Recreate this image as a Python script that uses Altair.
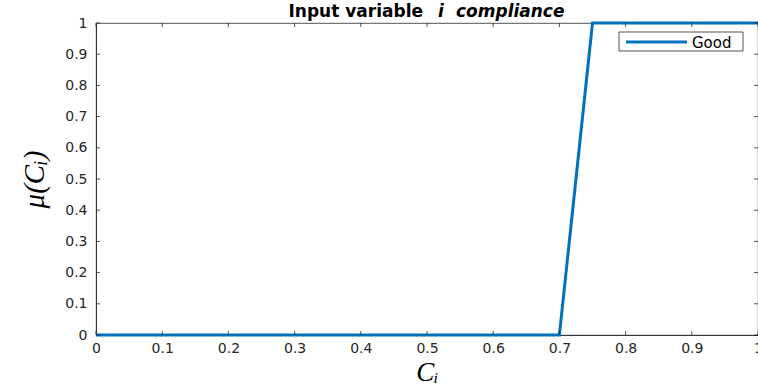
import altair as alt
import pandas as pd

# "Good" membership function of the compliance input (trapezoid breakpoints)
c_i = [0.0, 0.7, 0.75, 1.0]
mu = [0.0, 0.0, 1.0, 1.0]
series_name = "Good"

x_ticks = [0, 0.1, 0.2, 0.3, 0.4, 0.5, 0.6, 0.7, 0.8, 0.9, 1]
y_ticks = [0, 0.1, 0.2, 0.3, 0.4, 0.5, 0.6, 0.7, 0.8, 0.9, 1]

title_parts = ["Input variable", "i", "compliance"]

W, H = 662, 312
AX = "#262626"
BLUE = "#0072BD"
TICK = 4

line_df = pd.DataFrame({"C": c_i, "mu": mu})
xt_df = pd.DataFrame({"C": x_ticks})
yt_df = pd.DataFrame({"mu": y_ticks})
one = pd.DataFrame({"s": [series_name]})

xscale = alt.Scale(domain=[0, 1], nice=False, zero=False)
yscale = alt.Scale(domain=[0, 1], nice=False, zero=False)

x_axis = alt.Axis(
    values=x_ticks, format="~g", title="Cᵢ",
    titleFont="Liberation Serif", titleFontStyle="italic",
    titleFontWeight="normal", titleFontSize=27, titleColor="black",
    titleBaseline="alphabetic", titleY=45,
    labelFont="DejaVu Sans", labelFontSize=14, labelColor=AX,
    labelPadding=6, labelFlush=False, labelOverlap=False,
    ticks=False, tickSize=0, grid=False,
    domainColor=AX, domainWidth=0.8,
)
y_axis = alt.Axis(
    values=y_ticks, format="~g", title="μ(Cᵢ)",
    titleFont="Liberation Serif", titleFontStyle="italic",
    titleFontWeight="normal", titleFontSize=29, titleColor="black",
    titleAngle=270, titleAlign="center", titleBaseline="alphabetic",
    titleX=-53, titleY=H / 2,
    labelFont="DejaVu Sans", labelFontSize=14, labelColor=AX,
    labelPadding=9, labelOverlap=False, labelFlush=False,
    ticks=False, tickSize=0, grid=False,
    domainColor=AX, domainWidth=0.8,
)

X = alt.X("C:Q", scale=xscale, axis=x_axis)
Y = alt.Y("mu:Q", scale=yscale, axis=y_axis)

line = alt.Chart(line_df).mark_line(color=BLUE, strokeWidth=3, clip=False).encode(x=X, y=Y)

# inward tick marks on all four sides of the box
tick_bottom = alt.Chart(xt_df).mark_rule(color=AX, strokeWidth=0.8).encode(
    x=X, y=alt.value(H), y2=alt.value(H - TICK))
tick_top = alt.Chart(xt_df).mark_rule(color=AX, strokeWidth=0.8).encode(
    x=X, y=alt.value(0), y2=alt.value(TICK))
tick_left = alt.Chart(yt_df).mark_rule(color=AX, strokeWidth=0.8).encode(
    y=Y, x=alt.value(0), x2=alt.value(TICK))
tick_right = alt.Chart(yt_df).mark_rule(color=AX, strokeWidth=0.8).encode(
    y=Y, x=alt.value(W), x2=alt.value(W - TICK))

# legend box
leg_box = alt.Chart(one).mark_rect(fill="white", stroke=AX, strokeWidth=0.8).encode(
    x=alt.value(523), x2=alt.value(647), y=alt.value(9), y2=alt.value(28))
leg_line = alt.Chart(one).mark_rule(color=BLUE, strokeWidth=3).encode(
    x=alt.value(530), x2=alt.value(591), y=alt.value(19))
leg_text = alt.Chart(one).mark_text(
    font="DejaVu Sans", fontSize=15, align="left", baseline="middle", color="black"
).encode(x=alt.value(596), y=alt.value(19.5), text="s:N")

# title, upright bold part then bold italic part
t_df = pd.DataFrame({"t": title_parts})
t1 = alt.Chart(t_df.iloc[[0]]).mark_text(
    font="DejaVu Sans", fontSize=17, fontWeight="bold", align="right",
    baseline="alphabetic", color="black"
).encode(x=alt.value(327), y=alt.value(-6), text="t:N")
t2 = alt.Chart(t_df.iloc[[1]]).mark_text(
    font="DejaVu Sans", fontSize=17, fontWeight="bold", fontStyle="italic",
    align="center", baseline="alphabetic", color="black"
).encode(x=alt.value(345), y=alt.value(-6), text="t:N")
t3 = alt.Chart(t_df.iloc[[2]]).mark_text(
    font="DejaVu Sans", fontSize=17, fontWeight="bold", fontStyle="italic",
    align="left", baseline="alphabetic", color="black"
).encode(x=alt.value(360), y=alt.value(-6), text="t:N")

chart = alt.layer(
    line, tick_bottom, tick_top, tick_left, tick_right,
    leg_box, leg_line, leg_text, t1, t2, t3,
).properties(
    width=W,
    height=H,
    padding={"left": 96, "top": 23, "right": 0, "bottom": 51},
    autosize=alt.AutoSizeParams(type="none"),
    background="white",
).configure_view(stroke=AX, strokeWidth=0.8)

chart.save("out.html", embed_options={"renderer": "svg", "actions": False})
